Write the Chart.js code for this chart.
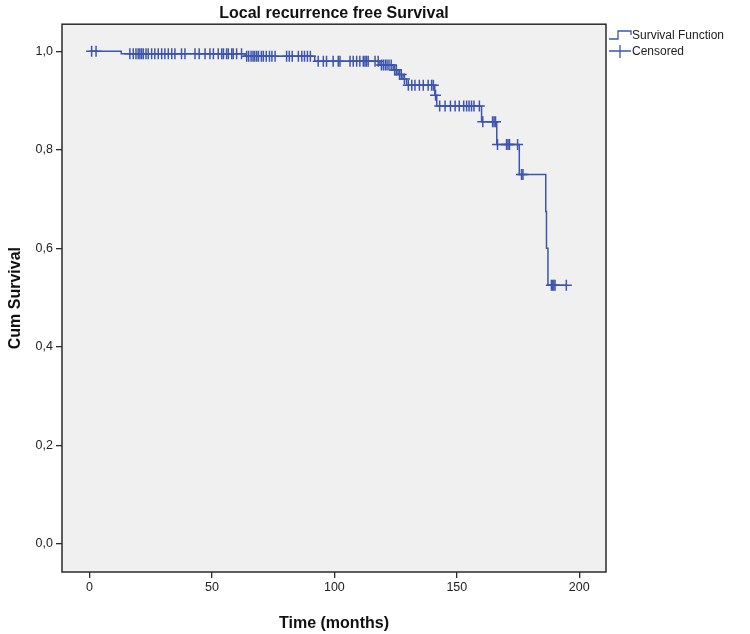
<!DOCTYPE html>
<html>
<head>
<meta charset="utf-8">
<script src="https://cdn.jsdelivr.net/npm/chart.js@4.4.1/dist/chart.umd.min.js"></script>
<style>
  html, body { margin: 0; padding: 0; background: #ffffff; }
  #wrap { position: relative; width: 750px; height: 634px; }
</style>
</head>
<body>
<div id="wrap"><canvas id="c" width="750" height="634"></canvas></div>
<script>
// ---- data ----
const chartTitle = "Local recurrence free Survival";
const xTitle = "Time (months)";
const yTitle = "Cum Survival";
const xTickValues = [0, 50, 100, 150, 200];
const yTickValues = [0, 0.2, 0.4, 0.6, 0.8, 1.0];

// Kaplan-Meier step function: event times and survival after each step
const eventTimes = [0, 13, 63.5, 92, 118.6, 124, 126, 128, 129.5, 141, 141.8, 160.1, 166.3, 175.5, 186.3, 186.6, 187.2];
const survival   = [1.0, 0.995, 0.990, 0.980, 0.972, 0.962, 0.953, 0.944, 0.931, 0.911, 0.889, 0.857, 0.811, 0.750, 0.675, 0.600, 0.525];
const lastFollowUp = 194.7;

// censored observation times
const censoredTimes = [
  0.9, 2.7,
  16.5, 17.9, 19.0, 19.9, 20.6, 21.3, 22.0, 23.1, 24.0, 25.4, 26.7, 28.1, 29.5, 30.8, 32.2, 33.6, 34.9, 37.6, 39.0,
  43.1, 44.8, 47.2, 49.2, 50.6, 52.6, 54.0, 54.7, 56.0, 56.7, 58.1, 58.7, 60.1, 62.1,
  64.2, 65.0, 66.0, 66.8, 67.5, 68.3, 69.0, 70.2, 71.0, 72.2, 73.5, 74.5, 75.8, 80.5, 81.6, 82.8, 85.3, 86.7, 87.8, 89.0, 90.2,
  93.4, 95.5, 96.8, 99.5, 101.6, 102.3, 106.4, 107.7, 109.1, 110.4, 111.8, 112.5, 113.1, 113.8, 116.6, 117.9,
  119.2, 120.0, 120.8, 121.5, 122.3, 123.2,
  124.6, 125.3, 126.6, 127.3, 128.6,
  130.2, 131.6, 132.9, 134.7, 136.3, 138.3, 139.7, 140.4,
  141.3,
  143.0, 145.2, 147.4, 149.3, 151.0, 152.8, 154.0, 155.0, 156.0, 157.0, 159.2,
  160.6, 164.6, 165.2, 165.8,
  166.6, 170.3, 170.9, 171.5, 174.8,
  176.4, 177.0,
  188.6, 189.1, 189.6, 190.1, 194.7
];

// ---- build library datasets ----
function survivalAt(t) {
  let s = survival[0];
  for (let i = 0; i < eventTimes.length; i++) { if (eventTimes[i] <= t) s = survival[i]; }
  return s;
}
const curvePoints = eventTimes.map((t, i) => ({ x: t, y: survival[i] }));
curvePoints.push({ x: lastFollowUp, y: survival[survival.length - 1] });
const censorPoints = censoredTimes.map(t => ({ x: t, y: survivalAt(t) }));

const BLUE = '#3d55ae';
const FONT = "'Liberation Sans', Arial, sans-serif";
const fmt = v => (Math.round(v * 10) / 10).toFixed(1).replace('.', ',');

const framePlugin = {
  id: 'frame',
  beforeDatasetsDraw(chart) {
    const a = chart.chartArea, ctx = chart.ctx;
    ctx.save();
    ctx.fillStyle = '#f0f0f0';
    ctx.fillRect(a.left, a.top, a.right - a.left, a.bottom - a.top);
    ctx.restore();
  },
  afterDraw(chart) {
    const a = chart.chartArea, ctx = chart.ctx;
    ctx.save();
    ctx.strokeStyle = '#2b2b2b';
    ctx.lineWidth = 1.5;
    ctx.strokeRect(a.left, a.top, a.right - a.left, a.bottom - a.top);
    // legend
    const lx = a.right + 3;
    ctx.strokeStyle = BLUE;
    ctx.lineWidth = 1.3;
    ctx.beginPath();
    ctx.moveTo(lx, 39); ctx.lineTo(lx + 9, 39); ctx.lineTo(lx + 9, 31);
    ctx.lineTo(lx + 22, 31); ctx.lineTo(lx + 22, 35);
    ctx.stroke();
    ctx.beginPath();
    ctx.moveTo(lx, 51); ctx.lineTo(lx + 22, 51);
    ctx.moveTo(lx + 11, 45); ctx.lineTo(lx + 11, 58);
    ctx.stroke();
    ctx.fillStyle = '#222';
    ctx.font = '12px ' + FONT;
    ctx.textBaseline = 'middle';
    ctx.textAlign = 'left';
    ctx.fillText('Survival Function', lx + 23, 36);
    ctx.fillText('Censored', lx + 23, 52);
    ctx.restore();
  }
};

new Chart(document.getElementById('c'), {
  type: 'scatter',
  data: {
    datasets: [
      {
        label: 'Censored',
        data: censorPoints,
        showLine: false,
        pointStyle: 'cross',
        pointRadius: 5.5,
        pointBorderWidth: 1.5,
        borderColor: BLUE,
        backgroundColor: BLUE,
        order: 0
      },
      {
        label: 'Survival Function',
        data: curvePoints,
        showLine: true,
        stepped: 'before',
        borderColor: BLUE,
        borderWidth: 1.5,
        pointRadius: 0,
        fill: false,
        order: 1
      }
    ]
  },
  plugins: [framePlugin],
  options: {
    responsive: false,
    animation: false,
    devicePixelRatio: 1,
    layout: { padding: { left: 0, top: 0, right: 144, bottom: 0 } },
    plugins: {
      legend: { display: false },
      tooltip: { enabled: false },
      title: {
        display: true,
        text: chartTitle,
        fullSize: false,
        color: '#111',
        font: { family: FONT, size: 16, weight: 'bold', lineHeight: 1.2 },
        padding: { top: 4, bottom: 1 }
      }
    },
    scales: {
      x: {
        type: 'linear',
        min: -11.2,
        max: 210.9,
        afterFit(s) { s.height = 62; },
        afterBuildTicks(s) { s.ticks = xTickValues.map(v => ({ value: v })); },
        ticks: { color: '#222', font: { family: FONT, size: 12.5 }, padding: 2, maxRotation: 0, callback: v => String(v) },
        grid: { display: true, drawOnChartArea: false, drawTicks: true, tickLength: 6, color: '#2b2b2b', lineWidth: 1.3 },
        border: { display: false },
        title: { display: true, text: xTitle, color: '#111', font: { family: FONT, size: 16, weight: 'bold' }, padding: { top: 0, bottom: 1 } }
      },
      y: {
        type: 'linear',
        min: -0.057,
        max: 1.055,
        afterFit(s) { s.width = 62; },
        afterBuildTicks(s) { s.ticks = yTickValues.map(v => ({ value: v })); },
        ticks: { color: '#222', font: { family: FONT, size: 12.5 }, padding: 3, callback: v => fmt(v) },
        grid: { display: true, drawOnChartArea: false, drawTicks: true, tickLength: 6, color: '#2b2b2b', lineWidth: 1.3 },
        border: { display: false },
        title: { display: true, text: yTitle, color: '#111', font: { family: FONT, size: 16, weight: 'bold' }, padding: { top: 6, bottom: 0 } }
      }
    }
  }
});
</script>
</body>
</html>
